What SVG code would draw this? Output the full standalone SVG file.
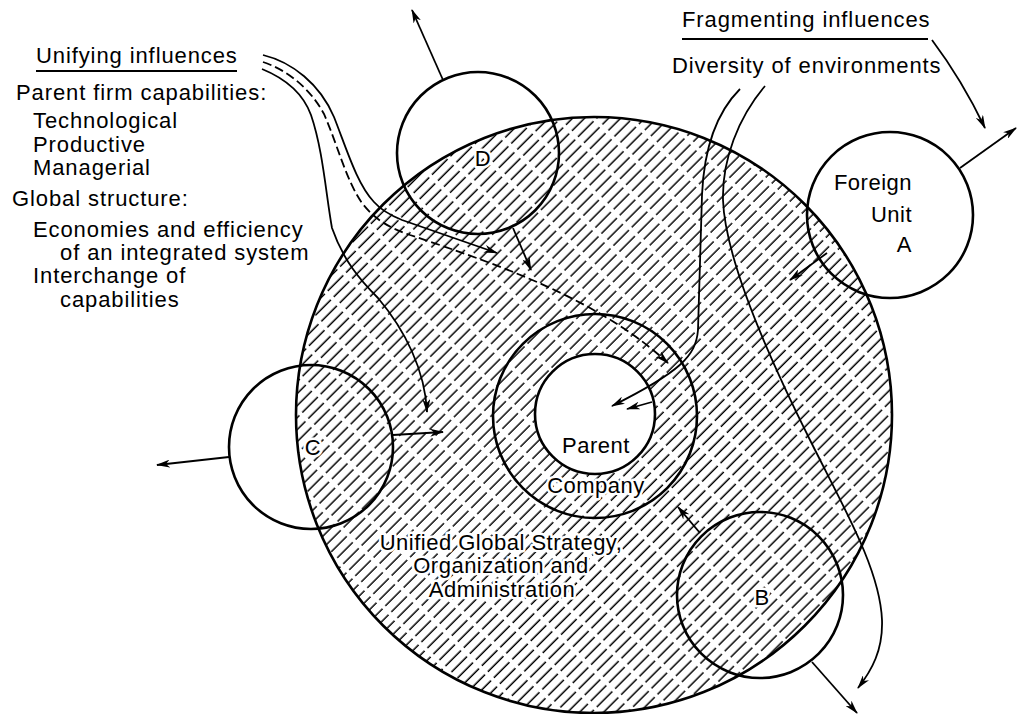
<svg xmlns="http://www.w3.org/2000/svg" width="1018" height="714" viewBox="0 0 1018 714">
<style>
text{font-family:"Liberation Sans",Arial,sans-serif;fill:#000}
.t{font-size:22px;letter-spacing:0.9px}
.lbl{font-size:22px;letter-spacing:0.5px;paint-order:stroke;stroke:#fff;stroke-width:5px;stroke-linejoin:round}
.c{fill:none;stroke:#000;stroke-width:2.6}
.ar{fill:none;stroke:#000;stroke-width:1.8;marker-end:url(#ah)}
.ul{stroke:#000;stroke-width:1.8}
</style>
<defs>
<pattern id="hatch" width="26" height="8.5" patternUnits="userSpaceOnUse" patternTransform="rotate(-45)">
<line x1="0" y1="4" x2="22" y2="4" stroke="#000" stroke-width="1.5"/>
</pattern>
<marker id="ah" viewBox="0 0 14 8" refX="13" refY="4" markerWidth="14" markerHeight="8" markerUnits="userSpaceOnUse" orient="auto">
<path d="M0,0 L14,4 L0,8 L4,4 Z" fill="#000"/>
</marker>
</defs>
<rect width="1018" height="714" fill="#fff"/>

<g id="global-strategy">
<path d="M296,415 a298,298 0 1,0 596,0 a298,298 0 1,0 -596,0 Z M535,414 a60,60 0 1,0 120,0 a60,60 0 1,0 -120,0 Z" fill="url(#hatch)" fill-rule="evenodd"/>
<circle cx="594" cy="415" r="298" class="c"/>
<text class="t lbl" x="501" y="550" text-anchor="middle">Unified Global Strategy,</text>
<text class="t lbl" x="501" y="573" text-anchor="middle">Organization and</text>
<text class="t lbl" x="502" y="597" text-anchor="middle">Administration</text>
</g>

<g id="parent-company">
<circle cx="595" cy="416" r="102" class="c"/>
<circle cx="595" cy="414" r="60" class="c" fill="#fff"/>
<text class="lbl" x="596" y="453" text-anchor="middle">Parent</text>
<text class="lbl" x="596" y="493" text-anchor="middle">Company</text>
</g>

<g id="unit-a">
<circle cx="890" cy="215" r="83" class="c"/>
<text class="lbl" x="912" y="190" text-anchor="end">Foreign</text>
<text class="lbl" x="912" y="222" text-anchor="end">Unit</text>
<text class="lbl" x="912" y="252" text-anchor="end">A</text>
</g>

<g id="unit-b">
<circle cx="760" cy="595" r="83" class="c"/>
<text class="lbl" x="762" y="605" text-anchor="middle">B</text>
</g>

<g id="unit-c">
<circle cx="311" cy="447" r="82" class="c"/>
<text class="lbl" x="313" y="455" text-anchor="middle">C</text>
</g>

<g id="unit-d">
<circle cx="478" cy="153" r="81" class="c"/>
<text class="lbl" x="483" y="166" text-anchor="middle">D</text>
</g>

<g id="unifying-text">
<text class="t" x="36" y="63">Unifying influences</text>
<line class="ul" x1="36" y1="71" x2="237" y2="71"/>
<text class="t" x="16" y="100">Parent firm capabilities:</text>
<text class="t" x="33" y="128">Technological</text>
<text class="t" x="33" y="152">Productive</text>
<text class="t" x="33" y="175">Managerial</text>
<text class="t" x="12" y="206">Global structure:</text>
<text class="t" x="33" y="237">Economies and efficiency</text>
<text class="t" x="60" y="260">of an integrated system</text>
<text class="t" x="33" y="283">Interchange of</text>
<text class="t" x="60" y="307">capabilities</text>
</g>

<g id="fragmenting-text">
<text class="t" x="682" y="27">Fragmenting influences</text>
<line class="ul" x1="682" y1="39" x2="928" y2="39"/>
<text class="t" x="672" y="73">Diversity of environments</text>
</g>

<g id="connectors">
<path class="ar" d="M443,80 L412,10"/>
<path class="ar" d="M513,228 L531,270"/>
<path class="ar" d="M960,168 L1016,128"/>
<path class="ar" d="M827,253 L790,280"/>
<path class="ar" d="M229,457 L157,465"/>
<path class="ar" d="M393,435 L443,432"/>
<path class="ar" d="M700,533 L678,507"/>
<path class="ar" d="M812,662 L857,713"/>
<path class="ar" d="M932,40 Q962,80 985,128"/>
<path class="ar" d="M263,55 C292,62 320,84 334,117 C347,150 357,184 374,202 C382,211 392,216 402,220 L497,253"/>
<path class="ar" d="M263,62 C287,70 310,88 324,114 C338,146 346,180 362,203 C375,220 390,228 410,235 C500,265 600,300 668,363" stroke-dasharray="9 4"/>
<path class="ar" d="M262,69 C284,78 303,93 311,115 C323,150 326,195 332,228 C343,260 360,280 378,298 C405,330 425,370 427,412"/>
<path class="ar" d="M740,89 C716,113 704,148 702,195 L698,330 C696,356 680,372 612,406"/>
<path class="ar" d="M765,86 C738,118 722,160 723,200 C725,260 770,360 810,440 C845,510 880,570 882,620 C883,650 872,670 858,688"/>
<path class="ar" d="M652,402 L627,409"/>
</g>
</svg>
